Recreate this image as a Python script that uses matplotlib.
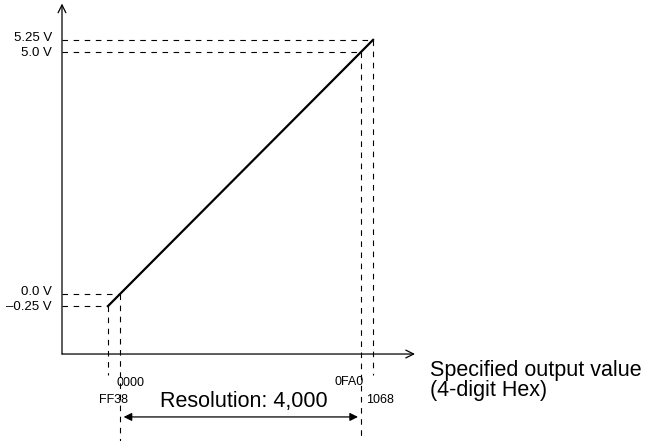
import matplotlib.pyplot as plt

plt.rcParams['font.family'] = ['Liberation Sans', 'DejaVu Sans']

# output value (hex codes as integers) vs output voltage
x_values = [-200, 4200]            # FF38 .. 1068
y_values = [-0.25, 5.25]
key_x = [-200, 0, 4000, 4200]
key_x_labels = ['FF38', '0000', '0FA0', '1068']
key_y = [-0.25, 0.0, 5.0, 5.25]
key_y_labels = ['\u20130.25 V', '0.0 V', '5.0 V', '5.25 V']

fig = plt.figure(figsize=(6.47, 4.41), dpi=100)
ax = fig.add_axes([0, 0, 1, 1])
ax.set_xlim(-1992, 8747)
ax.set_ylim(-3.037, 6.074)
ax.axis('off')

x0, y0 = -963, -1.24
dash = dict(color='black', lw=0.8, ls=(0, (5, 5)))

# axes with arrows
ax.annotate('', xy=(x0, 6.0), xytext=(x0, y0),
            arrowprops=dict(arrowstyle='->', lw=0.9, color='black', shrinkA=0, shrinkB=0,
                            mutation_scale=14))
ax.annotate('', xy=(4896, y0), xytext=(x0, y0),
            arrowprops=dict(arrowstyle='->', lw=0.9, color='black', shrinkA=0, shrinkB=0,
                            mutation_scale=14))

# guide lines
for xv, yv in zip(x_values + [0, 4000], y_values + [0.0, 5.0]):
    ax.plot([x0, xv], [yv, yv], **dash)
ax.plot([-200, -200], [-0.25, -1.67], **dash)
ax.plot([4200, 4200], [5.25, -1.67], **dash)
ax.plot([0, 0], [0.0, -3.05], **dash)
ax.plot([4000, 4000], [5.0, -3.05], **dash)

# characteristic
ax.plot(x_values, y_values, color='black', lw=1.6)

# labels
for yv, lab in zip(key_y, key_y_labels):
    off = 0.04 if yv in (0.0, 5.25) else -0.02
    ax.text(-1130, yv + off, lab, ha='right', va='center', fontsize=9.5)

ax.text(-66, -1.84, key_x_labels[1], ha='left', va='center', fontsize=9)
ax.text(-349, -2.19, key_x_labels[0], ha='left', va='center', fontsize=9)
ax.text(3552, -1.82, key_x_labels[2], ha='left', va='center', fontsize=9)
ax.text(4083, -2.19, key_x_labels[3], ha='left', va='center', fontsize=9)

ax.text(2058, -2.23, 'Resolution: 4,000', ha='center', va='center', fontsize=15.5)
ax.annotate('', xy=(60, -2.54), xytext=(3950, -2.54),
            arrowprops=dict(arrowstyle='<|-|>', lw=0.9, color='black', shrinkA=0, shrinkB=0,
                            mutation_scale=12))

ax.text(5145, -1.36, 'Specified output value\n(4-digit Hex)', ha='left', va='top',
        fontsize=15.5, linespacing=0.95)

fig.savefig('out.png', dpi=100)
